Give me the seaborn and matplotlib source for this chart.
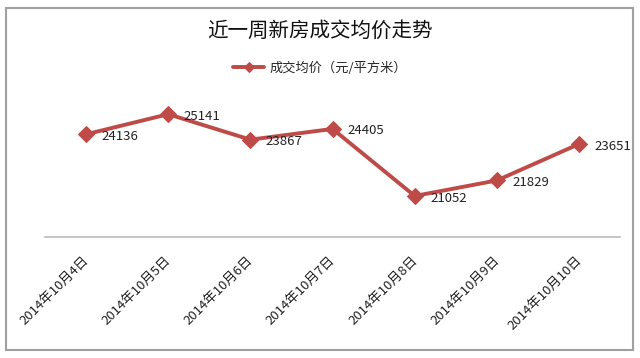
import matplotlib
matplotlib.use("Agg")
import matplotlib.pyplot as plt
import matplotlib.transforms as mtransforms
import seaborn as sns
import pandas as pd
from matplotlib.patches import Rectangle

dates = ["2014年10月4日", "2014年10月5日", "2014年10月6日", "2014年10月7日",
         "2014年10月8日", "2014年10月9日", "2014年10月10日"]
prices = [24136, 25141, 23867, 24405, 21052, 21829, 23651]
title = "近一周新房成交均价走势"
series_name = "成交均价（元/平方米）"

sns.set_theme(style="white")
plt.rcParams['font.family'] = ['Noto Sans CJK SC', 'DejaVu Sans']

df = pd.DataFrame({"date": dates, "price": prices, "series": series_name})

fig = plt.figure(figsize=(6.4, 3.58), dpi=100)
ax = fig.add_axes([0.0703, 0.338, 0.8987, 0.391])
color = "#BE4B48"
sns.lineplot(data=df, x="date", y="price", hue="series", palette=[color],
             marker="D", markersize=8, linewidth=2.8, markeredgecolor=color,
             sort=False, ax=ax)

ax.set_xlim(-0.5, len(dates) - 0.5)
ax.set_ylim(19000, 26000)
ax.set_xlabel("")
ax.set_ylabel("")
ax.set_yticks([])
for s in ["top", "left", "right"]:
    ax.spines[s].set_visible(False)
ax.spines["bottom"].set_color("#BBBBBB")
ax.spines["bottom"].set_linewidth(1.2)
ax.set_xticks(range(len(dates)))
ax.set_xticklabels(dates, rotation=45, ha="right", va="top",
                   rotation_mode="anchor", fontsize=9.5, color="#222222",
                   fontweight="medium")
ax.tick_params(axis="x", length=0, pad=12)
shift = mtransforms.ScaledTranslation(-4 / 100, 0, fig.dpi_scale_trans)
for lbl in ax.get_xticklabels():
    lbl.set_transform(lbl.get_transform() + shift)

for i, v in enumerate(prices):
    ax.annotate(str(v), (i, v), xytext=(11, -1.5), textcoords="offset points",
                ha="left", va="center", fontsize=9.5, color="#222222")

leg = ax.legend(loc="center", bbox_to_anchor=(0.5, 0.81),
                bbox_transform=fig.transFigure, frameon=False,
                fontsize=9.5, handlelength=2.4, handletextpad=0.4)
for h in leg.legend_handles:
    h.set_markersize(5)

fig.text(0.5, 0.913, title, ha="center", va="center", fontsize=14.8,
         color="#111111", family=['Noto Sans CJK SC', 'DejaVu Sans'])

fig.patches.append(Rectangle((0.009, 0.022), 0.98, 0.956, transform=fig.transFigure,
                             fill=False, edgecolor="#A0A0A0", linewidth=1.5))

fig.savefig("out.png", dpi=100)
